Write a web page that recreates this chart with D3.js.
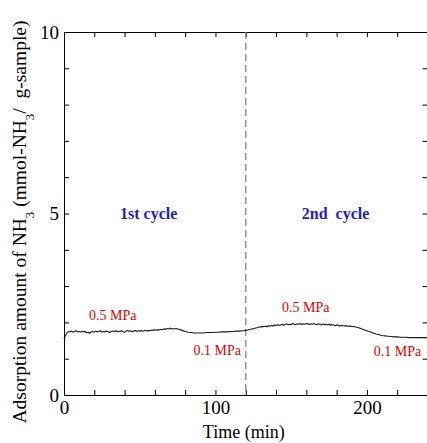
<!DOCTYPE html>
<html>
<head>
<meta charset="utf-8">
<script src="https://cdn.jsdelivr.net/npm/d3@7"></script>
<style>
  body { margin: 0; background: #fff; }
  svg { display: block; }
  .axis text { font-family: "Liberation Serif", "Times New Roman", serif; font-size: 19px; fill: #000; }
  .axis path, .axis line { stroke: #000; stroke-width: 1; }
</style>
</head>
<body>
<svg width="427" height="443"></svg>
<script>
// time (min): 1 min steps where the signal is noisy, 2 min elsewhere
const times = [0].concat(
  d3.range(2, 77, 1),
  d3.range(78, 127, 2),
  d3.range(128, 191, 1),
  d3.range(192, 241, 2)
);
// NH3 adsorption amount (mmol-NH3 / g-sample)
const adsorption = [
  1.55,
  // 2..76 (1 min)
  1.72, 1.75, 1.74, 1.76, 1.73, 1.75, 1.77, 1.74, 1.75, 1.73,
  1.76, 1.74, 1.75, 1.71, 1.73, 1.70, 1.74, 1.75, 1.73, 1.76,
  1.74, 1.75, 1.77, 1.73, 1.75, 1.74, 1.76, 1.75, 1.72, 1.74,
  1.76, 1.75, 1.77, 1.74, 1.76, 1.75, 1.77, 1.74, 1.73, 1.76,
  1.78, 1.75, 1.77, 1.74, 1.76, 1.78, 1.75, 1.77, 1.76, 1.78,
  1.75, 1.77, 1.79, 1.76, 1.78, 1.77, 1.79, 1.78, 1.80, 1.78,
  1.80, 1.79, 1.81, 1.80, 1.82, 1.81, 1.83, 1.82, 1.84, 1.82,
  1.83, 1.82, 1.83, 1.82, 1.81,
  // 78..126 (2 min)
  1.78, 1.75, 1.73, 1.72, 1.71, 1.71, 1.71, 1.71, 1.72, 1.72,
  1.72, 1.73, 1.73, 1.74, 1.74, 1.74, 1.75, 1.75, 1.76, 1.76,
  1.77, 1.78, 1.80, 1.82, 1.84,
  // 128..190 (1 min)
  1.86, 1.88, 1.87, 1.89, 1.88, 1.90, 1.88, 1.91, 1.89, 1.92,
  1.90, 1.93, 1.91, 1.94, 1.92, 1.93, 1.95, 1.92, 1.94, 1.96,
  1.93, 1.95, 1.94, 1.97, 1.95, 1.94, 1.96, 1.95, 1.97, 1.94,
  1.96, 1.95, 1.97, 1.96, 1.94, 1.96, 1.95, 1.97, 1.95, 1.94,
  1.96, 1.95, 1.93, 1.96, 1.94, 1.95, 1.93, 1.95, 1.92, 1.94,
  1.93, 1.91, 1.93, 1.92, 1.90, 1.92, 1.91, 1.90, 1.91, 1.90,
  1.89, 1.90, 1.89,
  // 192..240 (2 min)
  1.88, 1.86, 1.83, 1.80, 1.77, 1.74, 1.71, 1.68, 1.66, 1.64,
  1.63, 1.62, 1.61, 1.60, 1.60, 1.59, 1.59, 1.59, 1.58, 1.58,
  1.58, 1.58, 1.58, 1.58, 1.58
];
const xTicks = d3.range(0, 241, 20);
const xLabels = [0, 100, 200];
const yTicks = d3.range(0, 11, 1);
const yLabels = [0, 5, 10];
const cycleSwitch = 120;
const cycleLabels = [
  { text: "1st cycle", t: 37 },
  { text: "2nd  cycle", t: 157 }
];
const pressureLabels = [
  { text: "0.5 MPa", t: 16.5, v: 2.07 },
  { text: "0.1 MPa", t: 85.5, v: 1.10 },
  { text: "0.5 MPa", t: 144, v: 2.29 },
  { text: "0.1 MPa", t: 204.5, v: 1.07 }
];

const plot = { left: 64, right: 427.5, top: 32, bottom: 395 };
const svg = d3.select("svg");

const x = d3.scaleLinear().domain([0, 240]).range([plot.left, plot.right]);
const y = d3.scaleLinear().domain([0, 10]).range([plot.bottom, plot.top]);

// axes, ticks pointing inward on all four sides
svg.append("g").attr("class", "axis")
  .attr("transform", "translate(0," + plot.bottom + ")")
  .call(d3.axisBottom(x).tickValues(xTicks).tickSizeInner(-5).tickSizeOuter(0).tickPadding(6)
    .tickFormat((d) => (xLabels.includes(d) ? d : "")));

svg.append("g").attr("class", "axis")
  .attr("transform", "translate(0," + plot.top + ")")
  .call(d3.axisTop(x).tickValues(xTicks).tickSizeInner(-5).tickSizeOuter(0).tickFormat(""));

svg.append("g").attr("class", "axis")
  .attr("transform", "translate(" + plot.left + ",0)")
  .call(d3.axisLeft(y).tickValues(yTicks).tickSizeInner(-5).tickSizeOuter(0).tickPadding(5)
    .tickFormat((d) => (yLabels.includes(d) ? d : "")));

svg.append("g").attr("class", "axis")
  .attr("transform", "translate(" + plot.right + ",0)")
  .call(d3.axisRight(y).tickValues(yTicks).tickSizeInner(-5).tickSizeOuter(0).tickFormat(""));

// cycle divider
svg.append("line")
  .attr("x1", x(cycleSwitch)).attr("x2", x(cycleSwitch))
  .attr("y1", plot.top).attr("y2", plot.bottom)
  .attr("stroke", "#888").attr("stroke-width", 1.3)
  .attr("stroke-dasharray", "7,4");

// adsorption curve
const line = d3.line()
  .x((d, i) => x(times[i]))
  .y((d) => y(d));

svg.append("path")
  .datum(adsorption)
  .attr("d", line)
  .attr("fill", "none")
  .attr("stroke", "#1a1a1a")
  .attr("stroke-width", 1.1);

// labels
svg.selectAll(".cycle")
  .data(cycleLabels)
  .enter()
  .append("text")
  .attr("class", "cycle")
  .attr("x", (d) => x(d.t))
  .attr("y", y(5) + 5)
  .attr("xml:space", "preserve")
  .style("font-family", "'Liberation Serif', serif")
  .style("font-size", "16px")
  .style("font-weight", "bold")
  .attr("fill", "#1c1cc8")
  .text((d) => d.text);

svg.selectAll(".pressure")
  .data(pressureLabels)
  .enter()
  .append("text")
  .attr("class", "pressure")
  .attr("x", (d) => x(d.t))
  .attr("y", (d) => y(d.v))
  .style("font-family", "'Liberation Serif', serif")
  .style("font-size", "14px")
  .attr("fill", "#e00000")
  .text((d) => d.text);

// axis titles
svg.append("text")
  .attr("x", (plot.left + plot.right) / 2 - 2)
  .attr("y", 438)
  .attr("text-anchor", "middle")
  .style("font-family", "'Liberation Serif', serif")
  .style("font-size", "18px")
  .text("Time (min)");

const yTitle = svg.append("text")
  .attr("transform", "translate(26," + 222 + ")rotate(-90)")
  .attr("text-anchor", "middle")
  .attr("xml:space", "preserve")
  .style("font-family", "'Liberation Serif', serif")
  .style("font-size", "19.5px");
yTitle.append("tspan").text("Adsorption amount of NH");
yTitle.append("tspan").attr("baseline-shift", "sub").style("font-size", "13px").text("3");
yTitle.append("tspan").text(" (mmol-NH");
yTitle.append("tspan").attr("baseline-shift", "sub").style("font-size", "13px").text("3");
yTitle.append("tspan").text("/  g-sample)");
</script>
</body>
</html>
